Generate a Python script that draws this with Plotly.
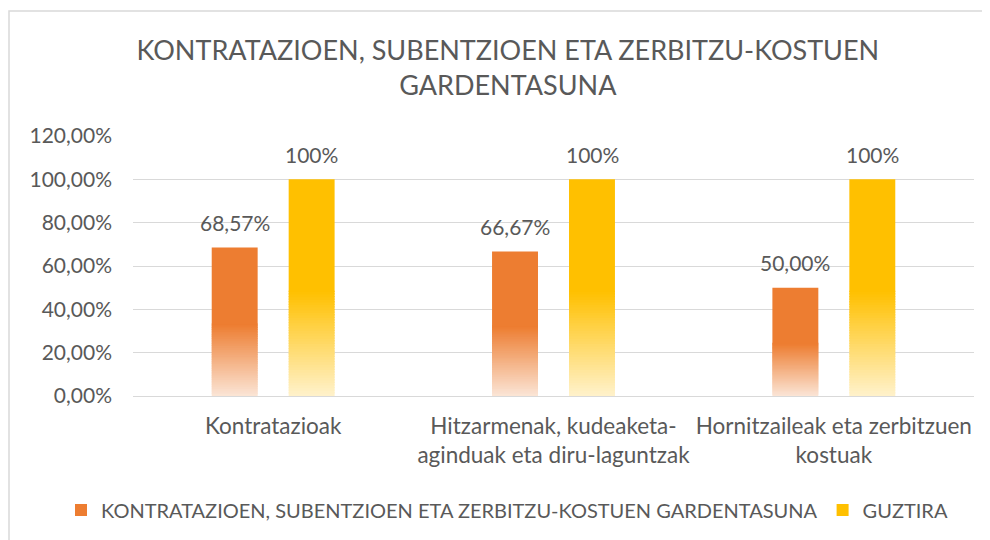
import plotly.graph_objects as go

categories = ["Kontratazioak",
              "Hitzarmenak, kudeaketa-<br>aginduak eta diru-laguntzak",
              "Hornitzaileak eta zerbitzuen<br>kostuak"]
series_names = ["KONTRATAZIOEN, SUBENTZIOEN ETA ZERBITZU-KOSTUEN GARDENTASUNA", "GUZTIRA"]
values_a = [0.6857, 0.6667, 0.50]
values_b = [1.0, 1.0, 1.0]
labels_a = ["68,57%", "66,67%", "50,00%"]
labels_b = ["100%", "100%", "100%"]
title_text = "KONTRATAZIOEN, SUBENTZIOEN ETA ZERBITZU-KOSTUEN<br>GARDENTASUNA"

FONT = "Lato"
GREY = "#595959"
FADE = 0.48   # fraction of each bar covered by the gradient
NSEG = 40
OVERLAP = 0.006

# page body has an 8px margin, so the figure starts at (8, 8)
W, H = 982, 532
L, R, T, B = 125, 16, 128, 144
PW, PH = W - L - R, H - T - B


def hex2rgb(h):
    h = h.lstrip("#")
    return [int(h[i:i + 2], 16) for i in (0, 2, 4)]


def mix(c1, c2, t):
    a, b = hex2rgb(c1), hex2rgb(c2)
    return "rgb(%d,%d,%d)" % tuple(round(a[i] + (b[i] - a[i]) * t) for i in range(3))


fig = go.Figure()


def add_series(vals, labels, name, top, light, group, shift):
    # gradient segments (bottom part)
    for i in range(NSEG):
        t = (i + 0.5) / NSEG
        fig.add_trace(go.Bar(
            x=categories, y=[v * FADE / NSEG + OVERLAP for v in vals],
            base=[v * FADE * i / NSEG for v in vals],
            offsetgroup=group, marker=dict(color=mix(light, top, t), line=dict(width=0)),
            showlegend=False, hoverinfo="skip", legendgroup=group))
    # solid top part
    fig.add_trace(go.Bar(
        x=categories, y=[v * (1 - FADE) for v in vals],
        base=[v * FADE for v in vals],
        offsetgroup=group, name=name, legendgroup=group,
        marker=dict(color=top, line=dict(width=0)),
        hovertext=labels, hoverinfo="x+text+name"))
    for c, v, lab in zip(categories, vals, labels):
        fig.add_annotation(x=c, y=v, xref="x", yref="y", text=lab, showarrow=False,
                           xshift=shift, yshift=25, yanchor="middle", xanchor="center",
                           font=dict(family=FONT, size=21, color=GREY))


add_series(values_a, labels_a, series_names[0], "#ED7D31", "#FBE5D6", "a", -38.5)
add_series(values_b, labels_b, series_names[1], "#FFC000", "#FFF2CC", "b", 38.5)

fig.update_layout(
    width=W, height=H,
    paper_bgcolor="white", plot_bgcolor="white",
    barmode="group", bargap=0.451, bargroupgap=0.403,
    separators=",.",
    margin=dict(l=L, r=R, t=T, b=B, autoexpand=False),
    title=dict(text=title_text, x=0.509, xref="container", xanchor="center",
               y=0.903, yref="container", yanchor="middle",
               font=dict(family=FONT, size=27, color=GREY)),
    font=dict(family=FONT, color=GREY),
    legend=dict(orientation="h", x=(53 - L) / PW, xref="paper", xanchor="left",
                y=-(502 - (H - B)) / PH, yref="paper", yanchor="middle",
                font=dict(family=FONT, size=20, color=GREY),
                traceorder="normal", itemclick=False),
    showlegend=True,
    shapes=[dict(type="rect", xref="paper", yref="paper",
                 x0=(1 - L) / PW, x1=(W + 20 - L) / PW,
                 y0=-(B + 20) / PH, y1=(H - 3 - B) / PH,
                 line=dict(color="#D9D9D9", width=1.5), fillcolor="rgba(0,0,0,0)", layer="below")],
)
fig.update_yaxes(range=[0, 1.2], dtick=0.2, tickformat=".2%", showgrid=True,
                 gridcolor="#D9D9D9", gridwidth=1, zeroline=False, showline=False,
                 ticks="", ticklabelstandoff=20,
                 tickfont=dict(family=FONT, size=21, color=GREY))
fig.update_xaxes(showline=True, linecolor="#D9D9D9", linewidth=1, ticks="",
                 ticklabelstandoff=10,
                 tickfont=dict(family=FONT, size=22.5, color=GREY))

fig.write_html("out.html")
